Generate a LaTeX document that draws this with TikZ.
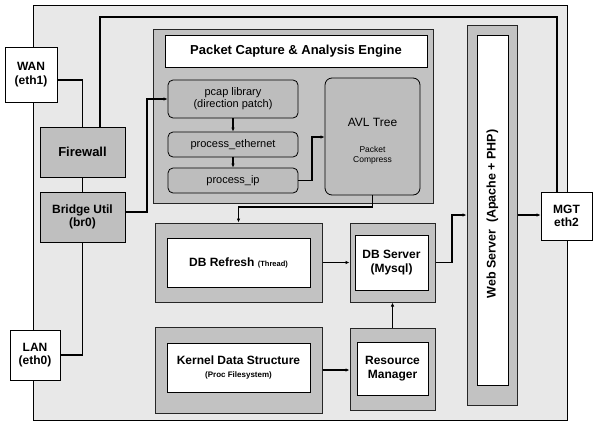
\documentclass[tikz,border=0pt]{standalone}
\usepackage{fontspec}
\setmainfont{Liberation Sans}
\usetikzlibrary{arrows.meta}
\begin{document}
\begin{tikzpicture}[x=1pt,y=-1pt,
  box/.style={draw=black, line width=0.8pt, minimum width=#1, inner sep=0pt, align=center, font=\bfseries\fontsize{12}{13.5}\selectfont},
  panel/.style={draw=black!85, line width=1pt, fill=gray!48},
  wbox/.style={fill=white},
  gbox/.style={fill=gray!50},
  rbox/.style={fill=gray!52, rounded corners=5pt, font=\fontsize{11}{12}\selectfont},
  link/.style={draw=black, line width=1.2pt},
  arr/.style={link, -{Latex[length=4pt,width=3.5pt]}}
]
\useasboundingbox (0,0) rectangle (593,423);
% background
\node[draw=black, line width=0.8pt, fill=gray!18, minimum width=534pt, minimum height=415pt, inner sep=0pt] (bg) at (300,212.5) {};

% interfaces
\node[box=52pt, wbox, minimum height=55pt] (wan) at (31,74.5) {WAN\\(eth1)};
\node[box=50pt, wbox, minimum height=50pt] (lan) at (35,355) {LAN\\(eth0)};
\node[box=51pt, wbox, minimum height=48pt] (mgt) at (566.5,216) {MGT\\eth2};

% firewall / bridge
\node[box=85pt, gbox, minimum height=50pt, font=\bfseries\fontsize{13}{15}\selectfont] (fw) at (82.5,152) {Firewall};
\node[box=85pt, gbox, minimum height=50pt] (br) at (82.5,217) {Bridge Util\\(br0)};

% engine
\node[box=280pt, panel, minimum height=174pt] (eng) at (293,116) {};
\node[box=262pt, wbox, minimum height=32pt, font=\bfseries\fontsize{13}{15}\selectfont] (title) at (296,51) {Packet Capture \& Analysis Engine};
\node[box=130pt, rbox, minimum height=38pt] (pcap) at (233,99) {pcap library\\(direction patch)};
\node[box=130pt, rbox, minimum height=25pt] (peth) at (233,144.5) {process\_ethernet};
\node[box=130pt, rbox, minimum height=25pt] (pip) at (233,180.5) {process\_ip};
\node[box=95pt, rbox, minimum height=117pt, rounded corners=7pt] (avl) at (372.5,136.5) {};
\node[font=\fontsize{12}{13}\selectfont] (avlt) at (372.5,122) {AVL Tree};
\node[font=\fontsize{8.5}{10}\selectfont, align=center] (avls) at (372.5,155) {Packet\\Compress};

% DB refresh / server
\node[box=167pt, panel, minimum height=79pt] (dbrp) at (238.5,262.5) {};
\node[box=143pt, wbox, minimum height=49pt] (dbr) at (238.5,262.5) {DB Refresh {\fontsize{7.5}{8}\selectfont (Thread)}};
\node[box=85pt, panel, minimum height=79pt] (dbsp) at (392.5,262.5) {};
\node[box=73pt, wbox, minimum height=55pt] (dbs) at (391.5,262.5) {DB Server\\(Mysql)};

% kernel / resource
\node[box=167pt, panel, minimum height=86pt] (kerp) at (238.5,370) {};
\node[box=143pt, wbox, minimum height=49pt] (ker) at (238.5,367.5) {Kernel Data Structure\\[-1pt]{\fontsize{8}{9}\selectfont (Proc Filesystem)}};
\node[box=85pt, panel, minimum height=82pt] (rmp) at (392.5,369) {};
\node[box=71pt, wbox, minimum height=53pt] (rm) at (392.5,368.5) {Resource\\Manager};

% web server
\node[box=50pt, panel, minimum height=380pt] (webp) at (492,215) {};
\node[box=31pt, wbox, minimum height=350pt] (web) at (492.5,210) {};
\node[rotate=90, font=\bfseries\fontsize{12.5}{14}\selectfont] (webt) at (492.5,214) {Web Server~~(Apache + PHP)};

% coordinates
\coordinate (c1) at (557,17);
\coordinate (c2) at (147,99);
\coordinate (c3) at (312,137);
\coordinate (c4) at (238.5,207);
\coordinate (c5) at (452,215);

% connectors
\draw[link] ([yshift=-5.5pt]wan.east) -| (fw.north);
\draw[link] (fw.south) -- (br.north);
\draw[link] (br.south) |- (lan.east);
\draw[link] ([xshift=17.5pt]fw.north) |- (c1) -- (c1 |- mgt.north);
\draw[arr] ([yshift=5pt]br.east) -| (c2) -- (pcap.west);
\draw[arr] (pcap.south) -- (peth.north);
\draw[arr] (peth.south) -- (pip.north);
\draw[arr] (pip.east) -| (c3) -- (c3 -| avl.west);
\draw[arr] (avl.south) |- (c4) -- (dbrp.north);
\draw[arr] (dbrp.east) -- (dbsp.west);
\draw[arr] (kerp.east) -- (kerp.east -| rmp.west);
\draw[arr] (rmp.north) -- (rmp.north |- dbsp.south);
\draw[arr] (dbsp.east) -| (c5) -- (c5 -| webp.west);
\draw[arr] (webp.east) -- (webp.east -| mgt.west);
\end{tikzpicture}
\end{document}
